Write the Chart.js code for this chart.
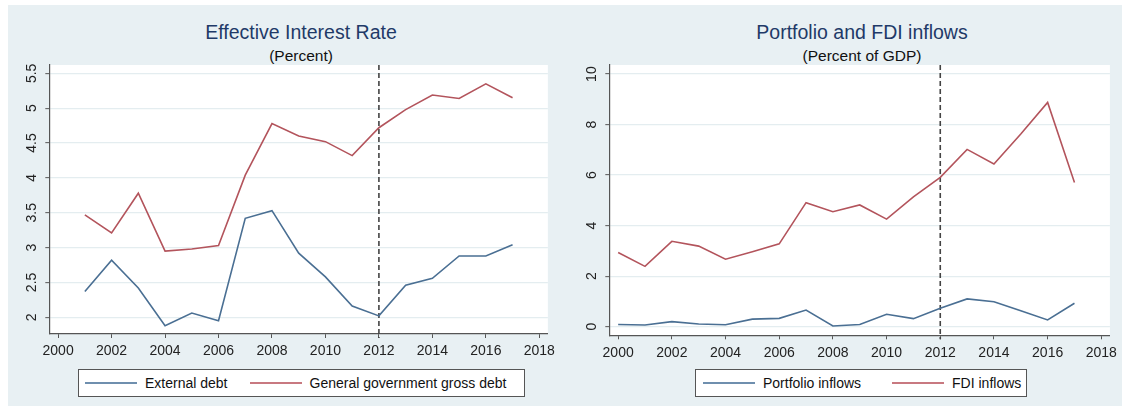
<!DOCTYPE html>
<html>
<head>
<meta charset="utf-8">
<script src="https://cdn.jsdelivr.net/npm/chart.js@4"></script>
<style>
  html, body { margin:0; padding:0; background:#fff; }
  body { width:1122px; height:406px; position:relative; overflow:hidden; font-family:"Liberation Sans", Arial, sans-serif; }
  #bg { position:absolute; left:8px; top:5px; width:1114px; height:401px; background:#e8f0f3; }
  canvas { position:absolute; top:0; }
  .title { position:absolute; text-align:center; font-size:19.5px; line-height:24px; color:#1f3a68; white-space:nowrap; }
  .sub { position:absolute; text-align:center; font-size:15.5px; line-height:18px; color:#111; white-space:nowrap; }
  .legend { position:absolute; top:369px; height:28px; box-sizing:border-box; background:#fff; border:1px solid #555;
            display:flex; align-items:center; justify-content:flex-start; font-size:14px; color:#111; white-space:nowrap; }
  .legend .sw { display:inline-block; width:52px; height:2px; margin-right:8px; }
  .legend .gap { display:inline-block; width:22px; }
</style>
</head>
<body>
<div id="bg"></div>
<div class="title" style="left:49px;width:504px;top:20px;">Effective Interest Rate</div>
<div class="sub" style="left:49px;width:504px;top:47px;">(Percent)</div>
<div class="title" style="left:609px;width:506px;top:20px;">Portfolio and FDI inflows</div>
<div class="sub" style="left:609px;width:506px;top:47px;">(Percent of GDP)</div>
<canvas id="c1" width="560" height="406" style="left:0;"></canvas>
<canvas id="c2" width="562" height="406" style="left:560px;"></canvas>
<div class="legend" style="left:78px;width:447px;padding-left:6px;">
  <span class="sw" style="background:#6f8fae"></span><span>External debt</span><span class="gap"></span>
  <span class="sw" style="background:#c87980"></span><span>General government gross debt</span>
</div>
<div class="legend" style="left:695px;width:332px;padding-left:7px;">
  <span class="sw" style="background:#6f8fae"></span><span>Portfolio inflows</span><span class="gap" style="width:31px"></span>
  <span class="sw" style="background:#c87980"></span><span>FDI inflows</span>
</div>
<script>
// ---- data ----
const rateYears = [2001,2002,2003,2004,2005,2006,2007,2008,2009,2010,2011,2012,2013,2014,2015,2016,2017];
const externalDebt = [2.37,2.82,2.42,1.88,2.06,1.95,3.42,3.53,2.92,2.58,2.16,2.02,2.46,2.56,2.88,2.88,3.04];
const govGrossDebt = [3.47,3.21,3.78,2.95,2.98,3.03,4.04,4.78,4.60,4.52,4.32,4.72,4.98,5.19,5.14,5.35,5.15];

const flowYears = [2000,2001,2002,2003,2004,2005,2006,2007,2008,2009,2010,2011,2012,2013,2014,2015,2016,2017];
const portfolioInflows = [0.09,0.07,0.20,0.11,0.08,0.30,0.33,0.66,0.03,0.09,0.49,0.32,0.73,1.10,0.99,0.63,0.27,0.93];
const fdiInflows = [2.94,2.39,3.38,3.19,2.67,2.97,3.28,4.91,4.55,4.82,4.26,5.14,5.91,7.02,6.44,7.63,8.88,5.71];

const xTicks = [2000,2002,2004,2006,2008,2010,2012,2014,2016,2018];
const rateYTicks = [2,2.5,3,3.5,4,4.5,5,5.5];
const flowYTicks = [0,2,4,6,8,10];
const markerYear = 2012;

const BLUE = '#4a6f93', RED = '#b3545c';
const FONT = '"Liberation Sans", Arial, sans-serif';

function pts(xs, ys){ return xs.map((x,i)=>({x:x, y:ys[i]})); }

const panelPlugin = {
  id:'panel',
  beforeDraw(chart){
    const {ctx, chartArea:a} = chart;
    ctx.save(); ctx.fillStyle='#fff';
    ctx.fillRect(a.left, a.top, a.right-a.left, a.bottom-a.top);
    ctx.restore();
  },
  beforeDatasetsDraw(chart){
    const {ctx, chartArea:a, scales} = chart;
    const x = scales.x.getPixelForValue(markerYear);
    ctx.save();
    ctx.strokeStyle='#444'; ctx.lineWidth=1.6; ctx.setLineDash([5,3]);
    ctx.beginPath(); ctx.moveTo(x, a.top); ctx.lineTo(x, a.bottom+4); ctx.stroke();
    ctx.restore();
  },
  afterDraw(chart){
    const {ctx, scales} = chart;
    const y = scales.y;
    const lx = chart.options.plugins.panel.labelX;
    ctx.save();
    ctx.fillStyle='#222'; ctx.font='14px '+FONT; ctx.textAlign='center'; ctx.textBaseline='middle';
    y.ticks.forEach(t=>{
      const py = y.getPixelForValue(t.value);
      ctx.save(); ctx.translate(lx, py); ctx.rotate(-Math.PI/2);
      ctx.fillText(String(t.value), 0, 0);
      ctx.restore();
    });
    ctx.restore();
  }
};

function makeChart(id, xs, s1, s2, yTicks, yMin, yMax, pad, xH, labelX){
  return new Chart(document.getElementById(id), {
    type:'line',
    data:{ datasets:[
      { data: pts(xs, s1), borderColor: BLUE, borderWidth:1.6, pointRadius:0, tension:0, fill:false },
      { data: pts(xs, s2), borderColor: RED, borderWidth:1.6, pointRadius:0, tension:0, fill:false }
    ]},
    options:{
      responsive:false, animation:false, devicePixelRatio:1,
      layout:{ padding: pad },
      plugins:{ legend:{display:false}, tooltip:{enabled:false}, title:{display:false}, panel:{labelX: labelX} },
      scales:{
        x:{ type:'linear', min:1999.67, max:2018.32,
            afterBuildTicks(s){ s.ticks = xTicks.map(v=>({value:v})); },
            afterFit(s){ s.height = xH; },
            grid:{ drawOnChartArea:false, drawTicks:true, tickLength:4, tickColor:'#555', tickWidth:1 },
            border:{ color:'#555', width:1.2 },
            ticks:{ color:'#222', font:{family:FONT, size:14}, padding:5, maxRotation:0, autoSkip:false,
                    callback:v=>String(v) } },
        y:{ type:'linear', min:yMin, max:yMax,
            afterBuildTicks(s){ s.ticks = yTicks.map(v=>({value:v})); },
            afterFit(s){ s.width = 49.3; },
            grid:{ color:'#e4edf0', lineWidth:1.3, drawTicks:true, tickLength:4, tickColor:'#555', tickWidth:1 },
            border:{ color:'#555', width:1.2 },
            ticks:{ display:false } }
      }
    },
    plugins:[panelPlugin]
  });
}

makeChart('c1', rateYears, externalDebt, govGrossDebt, rateYTicks, 1.76, 5.62,
          {left:0, right:7, top:65, bottom:42}, 30, 32.5);
makeChart('c2', flowYears, portfolioInflows, fdiInflows, flowYTicks, -0.34, 10.36,
          {left:0, right:6.7, top:65, bottom:41}, 29.7, 32.5);
</script>
</body>
</html>
